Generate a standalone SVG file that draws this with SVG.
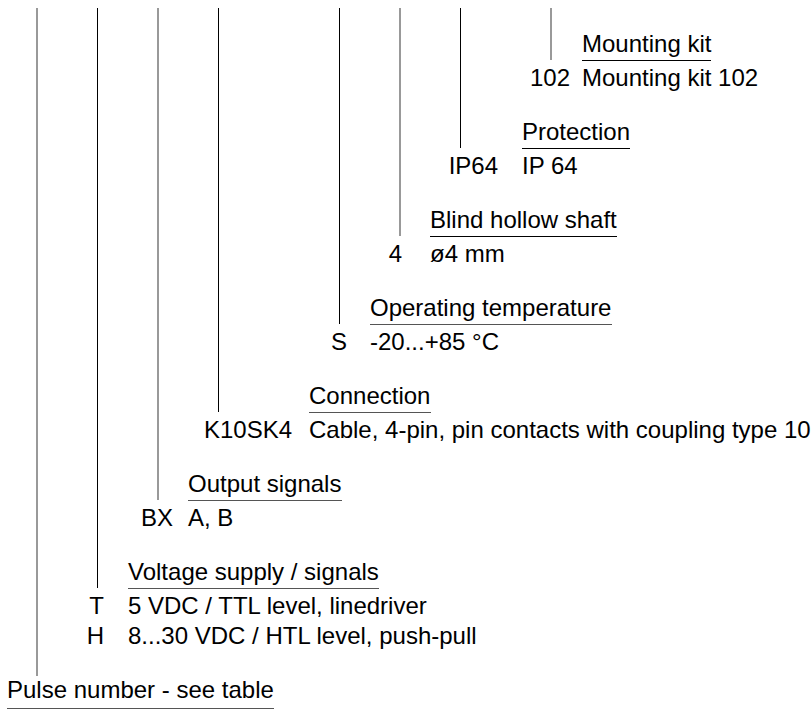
<svg xmlns="http://www.w3.org/2000/svg" width="812" height="711" viewBox="0 0 812 711">
<style>
text{font-family:"Liberation Sans",Arial,sans-serif;font-size:24px;fill:#000}
.c{text-anchor:end}
.u{stroke:#000;stroke-width:1}
.g{stroke:#555;stroke-width:1.2}
.l{stroke:#000;stroke-width:1;fill:none}
.lg{stroke:#555;stroke-width:1.2;fill:none}
</style>
<rect width="812" height="711" fill="#fff"/>
<g id="connectors">
<line class="lg" x1="37" y1="8" x2="37" y2="676"/>
<line class="l" x1="97.5" y1="8" x2="97.5" y2="588"/>
<line class="lg" x1="158" y1="8" x2="158" y2="500"/>
<line class="l" x1="218.5" y1="8" x2="218.5" y2="412"/>
<line class="l" x1="339.5" y1="8" x2="339.5" y2="324"/>
<line class="lg" x1="400" y1="8" x2="400" y2="236"/>
<line class="l" x1="460.5" y1="8" x2="460.5" y2="148"/>
<line class="lg" x1="551" y1="8" x2="551" y2="60"/>
</g>
<g id="mounting-kit">
<text x="582" y="52">Mounting kit</text>
<line class="u" x1="582" y1="60.5" x2="711" y2="60.5"/>
<text class="c" x="570" y="86">102</text>
<text x="582" y="86">Mounting kit 102</text>
</g>
<g id="protection">
<text x="522" y="140">Protection</text>
<line class="u" x1="522" y1="148.5" x2="630" y2="148.5"/>
<text class="c" x="498" y="174">IP64</text>
<text x="522" y="174">IP 64</text>
</g>
<g id="blind-hollow-shaft">
<text x="430" y="228">Blind hollow shaft</text>
<line class="u" x1="430" y1="236.5" x2="617" y2="236.5"/>
<text class="c" x="402" y="262">4</text>
<text x="430" y="262">ø4 mm</text>
</g>
<g id="operating-temperature">
<text x="370" y="316">Operating temperature</text>
<line class="g" x1="370" y1="324.5" x2="612" y2="324.5"/>
<text class="c" x="347" y="350">S</text>
<text x="370" y="350">-20...+85 °C</text>
</g>
<g id="connection">
<text x="309" y="404">Connection</text>
<line class="g" x1="309" y1="412.5" x2="431" y2="412.5"/>
<text class="c" x="292" y="438">K10SK4</text>
<text x="309" y="438">Cable, 4-pin, pin contacts with coupling type 10</text>
</g>
<g id="output-signals">
<text x="188" y="492">Output signals</text>
<line class="g" x1="188" y1="500.5" x2="342" y2="500.5"/>
<text class="c" x="173" y="526">BX</text>
<text x="188" y="526">A, B</text>
</g>
<g id="voltage-supply">
<text x="128" y="580">Voltage supply / signals</text>
<line class="g" x1="128" y1="588.5" x2="379" y2="588.5"/>
<text class="c" x="104" y="614">T</text>
<text x="128" y="614">5 VDC / TTL level, linedriver</text>
<text class="c" x="104" y="644">H</text>
<text x="128" y="644">8...30 VDC / HTL level, push-pull</text>
</g>
<g id="pulse-number">
<text x="7" y="698">Pulse number - see table</text>
<line class="g" x1="7" y1="708.5" x2="274" y2="708.5"/>
</g>
</svg>
